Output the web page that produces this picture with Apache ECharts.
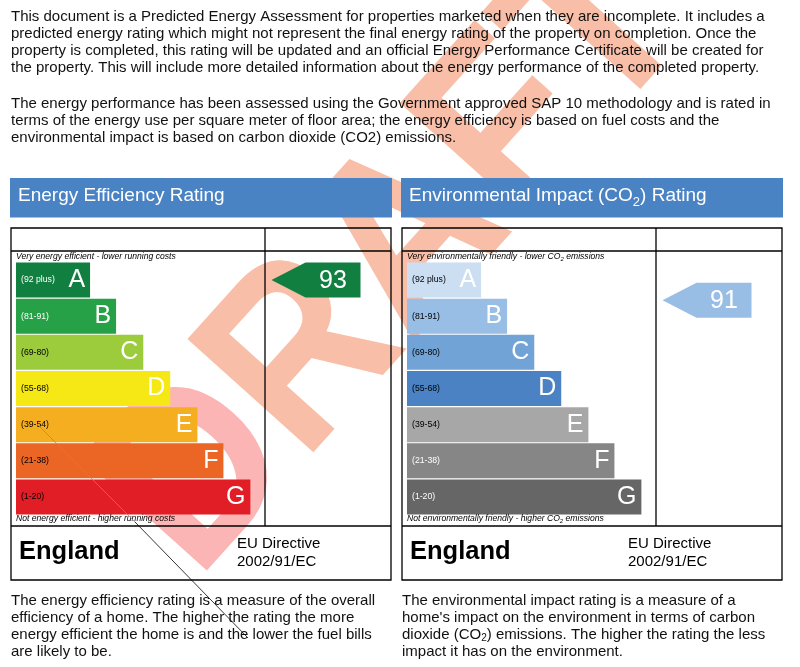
<!DOCTYPE html>
<html>
<head>
<meta charset="utf-8">
<script src="https://cdn.jsdelivr.net/npm/echarts@6/dist/echarts.min.js"></script>
<style>
  html, body { margin: 0; padding: 0; background: #fff; }
  #chart { width: 800px; height: 667px; }
</style>
</head>
<body>
<div id="chart"></div>
<script>
const FONT = '"Liberation Sans", Arial, sans-serif';

const bands = ['A', 'B', 'C', 'D', 'E', 'F', 'G'];
const bandRanges = ['(92 plus)', '(81-91)', '(69-80)', '(55-68)', '(39-54)', '(21-38)', '(1-20)'];
// bar length relative to the G band
const barLength = [31.6, 42.7, 54.3, 65.8, 77.4, 88.5, 100];

const energyColors = ['#107f40', '#26a147', '#9ccb3b', '#f5e815', '#f6ae21', '#eb6624', '#e11d25'];
const energyRangeColors = ['#fff', '#fff', '#000', '#000', '#000', '#000', '#000'];
const co2Colors = ['#cbdef2', '#98bee5', '#72a3d7', '#4a82c3', '#a7a7a7', '#868686', '#666666'];
const co2RangeColors = ['#000', '#000', '#000', '#000', '#000', '#fff', '#fff'];

const energyRating = 93;
const energyBand = 'A';
const co2Rating = 91;
const co2Band = 'B';

const introLines = [
  'This document is a Predicted Energy Assessment for properties marketed when they are incomplete. It includes a',
  'predicted energy rating which might not represent the final energy rating of the property on completion. Once the',
  'property is completed, this rating will be updated and an official Energy Performance Certificate will be created for',
  'the property. This will include more detailed information about the energy performance of the completed property.',
];
const methodLines = [
  'The energy performance has been assessed using the Government approved SAP 10 methodology and is rated in',
  'terms of the energy use per square meter of floor area; the energy efficiency is based on fuel costs and the',
  'environmental impact is based on carbon dioxide (CO2) emissions.',
];
const energyNotes = [
  'The energy efficiency rating is a measure of the overall',
  'efficiency of a home. The higher the rating the more',
  'energy efficient the home is and the lower the fuel bills',
  'are likely to be.',
];
const co2Notes = [
  'The environmental impact rating is a measure of a',
  'home\'s impact on the environment in terms of carbon',
  '{t|dioxide (CO}{s|2}{t|) emissions. The higher the rating the less}',
  'impact it has on the environment.',
];

const chart = echarts.init(document.getElementById('chart'));

const text = (x, y, str, extra) => ({
  type: 'text',
  x,
  y,
  z: 10,
  style: Object.assign({
    text: str,
    fill: '#111',
    fontSize: 15,
    fontFamily: FONT,
    verticalAlign: 'middle',
    textVerticalAlign: 'middle',
  }, extra),
});

const line = (x1, y1, x2, y2, stroke, width) => ({
  type: 'line',
  z: 10,
  shape: { x1, y1, x2, y2 },
  style: { stroke: stroke || '#000', lineWidth: width || 1.3 },
});

const smallRich = {
  t: { fontSize: 8.6, lineHeight: 10, fontStyle: 'italic', fontFamily: FONT, fill: '#000' },
  s: { fontSize: 6, lineHeight: 6, fontStyle: 'italic', fontFamily: FONT, fill: '#000', verticalAlign: 'bottom' },
};

function panelGraphics(bx, title, topNote, bottomNote, notes) {
  const els = [
    {
      type: 'rect',
      z: 10,
      shape: { x: bx - 1, y: 178, width: 382, height: 39.5 },
      style: { fill: '#4a83c4' },
    },
    text(bx + 7, 196, title, {
      rich: {
        t: { fontSize: 19, lineHeight: 26, fill: '#fff', fontFamily: FONT },
        s: { fontSize: 13, lineHeight: 12, fill: '#fff', fontFamily: FONT, verticalAlign: 'bottom' },
      },
    }),
    {
      type: 'rect',
      z: 10,
      shape: { x: bx, y: 228, width: 380, height: 352 },
      style: { fill: null, stroke: '#000', lineWidth: 1.3 },
    },
    line(bx, 251, bx + 380, 251),
    line(bx + 254, 228, bx + 254, 526),
    line(bx, 526, bx + 380, 526),
    text(bx + 5, 257, topNote, { rich: smallRich }),
    text(bx + 5, 519, bottomNote, { rich: smallRich }),
    text(bx + 8, 552, 'England', { fontSize: 25.5, fontWeight: 'bold', fill: '#000' }),
    text(bx + 226, 544, 'EU Directive', { fill: '#000' }),
    text(bx + 226, 562, '2002/91/EC', { fill: '#000' }),
  ];
  notes.forEach((s, i) => {
    els.push(text(bx, 601 + 16.8 * i, s, {
      rich: {
        t: { fontSize: 15, lineHeight: 17, fontFamily: FONT, fill: '#111' },
        s: { fontSize: 10, lineHeight: 10, fontFamily: FONT, fill: '#111', verticalAlign: 'bottom' },
      },
    }));
  });
  return els;
}

const graphic = [
  {
    type: 'text',
    x: 396,
    y: 259,
    z: 1,
    rotation: 48 * Math.PI / 180,
    scaleY: 1.12,
    style: {
      text: '{d|D}{r|RAFT}',
      align: 'center',
      verticalAlign: 'middle',
      textAlign: 'center',
      textVerticalAlign: 'middle',
      rich: {
        d: { fontSize: 220, fontWeight: 'bold', fontFamily: FONT, fill: 'rgba(246,90,90,0.45)' },
        r: { fontSize: 220, fontWeight: 'bold', fontFamily: FONT, fill: 'rgba(240,110,60,0.45)' },
      },
    },
  },
];
introLines.forEach((s, i) => graphic.push(text(11, 17 + 17 * i, s)));
methodLines.forEach((s, i) => graphic.push(text(11, 104 + 17 * i, s)));
graphic.push(...panelGraphics(11, '{t|Energy Efficiency Rating}',
  '{t|Very energy efficient - lower running costs}',
  '{t|Not energy efficient - higher running costs}',
  energyNotes.map((s) => '{t|' + s + '}')));
graphic.push(...panelGraphics(402, '{t|Environmental Impact (CO}{s|2}{t|) Rating}',
  '{t|Very environmentally friendly - lower CO}{s|2}{t| emissions}',
  '{t|Not environmentally friendly - higher CO}{s|2}{t| emissions}',
  co2Notes.map((s) => s.startsWith('{') ? s : '{t|' + s + '}')));
// stray pointer line across the left panel
graphic.push(line(37, 424, 135, 522, '#2bb3cf', 0.8));
graphic.push(line(135, 522, 248, 638, '#000', 0.8));

function panelSeries(idx, colors, rangeColors, rating, band, arrowOffset) {
  const arrowColor = colors[bands.indexOf(band)];
  return [
    {
      type: 'bar',
      xAxisIndex: idx,
      yAxisIndex: idx,
      barWidth: 35,
      barGap: '-100%',
      data: barLength.map((v, i) => ({
        value: v,
        itemStyle: { color: colors[i] },
        label: { color: rangeColors[i] },
      })),
      label: {
        show: true,
        position: 'insideLeft',
        distance: 5,
        fontSize: 8.7,
        fontFamily: FONT,
        formatter: (p) => bandRanges[p.dataIndex],
      },
    },
    {
      type: 'bar',
      xAxisIndex: idx,
      yAxisIndex: idx,
      barWidth: 35,
      barGap: '-100%',
      itemStyle: { color: 'transparent' },
      data: barLength,
      label: {
        show: true,
        position: 'insideRight',
        distance: 5,
        fontSize: 25,
        fontFamily: FONT,
        color: '#fff',
        formatter: (p) => bands[p.dataIndex],
      },
    },
    {
      type: 'scatter',
      xAxisIndex: idx,
      yAxisIndex: idx,
      clip: false,
      symbol: 'path://M0,17.5L34,0L89,0L89,35L34,35Z',
      symbolSize: [89, 35],
      symbolOffset: arrowOffset,
      itemStyle: { color: arrowColor, opacity: 1 },
      data: [{ value: [128, band], rating }],
      label: {
        show: true,
        position: 'inside',
        offset: [17, 1],
        fontSize: 25,
        fontFamily: FONT,
        color: '#fff',
        formatter: (p) => p.data.rating,
      },
    },
  ];
}

chart.setOption({
  animation: false,
  grid: [
    { left: 16, top: 262, width: 375, height: 253 },
    { left: 407, top: 262, width: 375, height: 253 },
  ],
  xAxis: [
    { type: 'value', gridIndex: 0, min: 0, max: 160, show: false },
    { type: 'value', gridIndex: 1, min: 0, max: 160, show: false },
  ],
  yAxis: [
    { type: 'category', gridIndex: 0, data: bands, inverse: true, show: false },
    { type: 'category', gridIndex: 1, data: bands, inverse: true, show: false },
  ],
  graphic,
  series: [
    ...panelSeries(0, energyColors, energyRangeColors, energyRating, energyBand, [0, 0]),
    ...panelSeries(1, co2Colors, co2RangeColors, co2Rating, co2Band, [0, -16]),
  ],
});
</script>
</body>
</html>
